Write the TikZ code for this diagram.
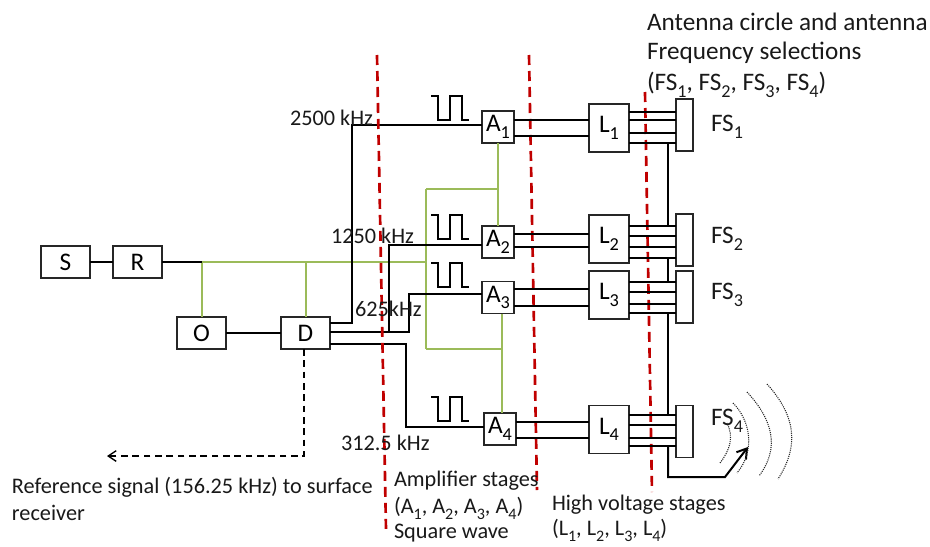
\documentclass[tikz,border=0pt]{standalone}
\usepackage{fontspec}
\setmainfont{Carlito}
\usetikzlibrary{arrows.meta,calc}
\definecolor{grn}{HTML}{9BBB59}
\definecolor{rd}{HTML}{C00000}
\newcommand\sbs[1]{\raisebox{-0.55ex}{\fontsize{0.72em}{1em}\selectfont #1}}
\tikzset{
  x=0.75pt,y=-0.75pt,
  bx/.style={draw=black!85,line width=1pt,fill=white,inner sep=0pt,outer sep=0pt,align=center,font=\fontsize{19}{22}\selectfont},
  lbl/.style={inner sep=0pt,outer sep=0pt,anchor=west,text=black!90,font=\fontsize{16.7}{20}\selectfont},
  big/.style={lbl,font=\fontsize{18.9}{22}\selectfont},
  blk/.style={draw=black,line width=1.1pt},
  thk/.style={draw=black,line width=1.5pt},
  grnl/.style={draw=grn,line width=1.4pt},
  reddash/.style={draw=rd,line width=2pt,dash pattern=on 7.5pt off 4.5pt},
  dots/.style={draw=black!85,line width=0.8pt,dash pattern=on 0.8pt off 0.8pt},
  wave/.style={draw=black,line width=1pt},
}
\newcommand\bxn[6]{\node[bx,minimum width=#4*0.75pt,minimum height=#5*0.75pt] (#1) at (#2,#3) {#6};}
\newcommand\wav[1]{\coordinate (w) at (431,#1); \draw[wave] (w) -- ++(7,0) -- ++(0,24) -- ++(12,0) -- ++(0,-24) -- ++(12,0) -- ++(0,24) -- ++(7,0);}
\begin{document}
\begin{tikzpicture}
\useasboundingbox (0,0) rectangle (930,546);
% boxes
\bxn{S}{65.5}{262}{49}{32}{S}
\bxn{R}{137.5}{262}{49}{32}{R}
\bxn{O}{201.5}{333}{49}{32}{O}
\bxn{D}{305.5}{333}{49}{32}{D}
\bxn{A1}{498}{127}{32}{32}{A\sbs{1}}
\bxn{A2}{498}{242}{32}{32}{A\sbs{2}}
\bxn{A3}{498}{297.5}{32}{32}{A\sbs{3}}
\bxn{A4}{500}{429}{32}{32}{A\sbs{4}}
\bxn{L1}{609}{128}{40}{48}{L\sbs{1}}
\bxn{L2}{609}{239}{40}{48}{L\sbs{2}}
\bxn{L3}{609}{295}{40}{48}{L\sbs{3}}
\bxn{L4}{609}{429.5}{40}{48}{L\sbs{4}}
\bxn{F1}{684.5}{125}{17}{52}{}
\bxn{F2}{684.5}{240}{17}{52}{}
\bxn{F3}{684.5}{297}{17}{52}{}
\bxn{F4}{684.5}{431.5}{17}{52}{}
\coordinate (gL) at (202,262);
\coordinate (gR) at (426,262);
\coordinate (gT) at (426,189);
\coordinate (gB) at (426,349);
\coordinate (dsh) at (304,456);
\coordinate (tip) at (107,456);
% green
\draw[grnl] (gL) -- (gR);
\draw[grnl] (gL) -- (gL |- O.north);
\draw[grnl] (306,262) -- (306,317);
\draw[grnl] (gT) -- (gB);
\draw[grnl] (A1.south) -- (A2.north);
\draw[grnl] (gT) -- (498,189);
\draw[grnl] (502,313.5) -- (502,413);
\draw[grnl] (gB) -- (502,349);
% black left
\draw[thk] (S) -- (R);
\draw[thk] (R.east) -- (gL);
\draw[thk] (O) -- (D);
\draw[blk] (D.east |- 0,323) -- (352,323) -- (352,125) -- (A1.west |- 0,125);
\draw[thk] (D.east |- 0,332) -- (409,332) -- (409,294) -- (A3.west |- 0,294);
\draw[blk] (389,332) -- (389,245) -- (A2.west |- 0,245);
\draw[blk] (D.east |- 0,344) -- (406,344) -- (406,427) -- (A4.west |- 0,427);
\draw[draw=black,line width=1pt,dash pattern=on 5pt off 3.5pt,-{Straight Barb[length=6pt,width=8pt]}] (D.south -| dsh) -- (dsh) -- (tip);
% square waves
\wav{96}
\wav{215}
\wav{263}
\wav{397}
% red
\coordinate (r1a) at (377,55); \coordinate (r1b) at (386,530);
\coordinate (r2a) at (529,55); \coordinate (r2b) at (537,490);
\coordinate (r3a) at (645,92); \coordinate (r3b) at (652,492);
\draw[reddash] (r1a) -- (r1b);
\draw[reddash] (r2a) -- (r2b);
\draw[reddash] (r3a) -- (r3b);
% A to L
\foreach \a/\l/\ya/\yb in {A1/L1/120/136,A2/L2/234/247,A3/L3/289/306,A4/L4/422/438}{
  \draw[thk] (\a.east |- 0,\ya) -- (\l.west |- 0,\ya);
  \draw[thk] (\a.east |- 0,\yb) -- (\l.west |- 0,\yb);
}
% L to FS
\foreach \l/\f/\ya/\yb/\yc/\yd in {L1/F1/112/120/133/143,L2/F2/226/236/247/258,L3/F3/282/292/304/313,L4/F4/415/425/438/446}{
  \foreach \y in {\ya,\yb,\yc,\yd}{\draw[thk] (\l.east |- 0,\y) -- (\f.west |- 0,\y);}
}
% bus
\coordinate (ant) at (725,477);
\coordinate (anttip) at (748,447);
\draw[thk] (668,143) -- (668,227);
\draw[thk] (668,258) -- (668,282);
\draw[thk] (668,313) -- (668,415);
\draw[thk,-{Straight Barb[length=7pt,width=9pt]}] (668,446) -- (668,477) -- (ant) -- (anttip);
% dotted arcs
\draw[dots] (720,463) .. controls (730,450) and (734,437) .. (727,423);
\draw[dots] (733,403) .. controls (750,420) and (756,450) .. (737,473);
\draw[dots] (747,392) .. controls (773,420) and (780,448) .. (759,476);
\draw[dots] (767,384) .. controls (795,415) and (800,445) .. (778,479);
% labels
\node[lbl] (t1) at (290,118) {2500 kHz};
\node[lbl] (t2) at (331,236) {1250 kHz};
\node[lbl] (t3) at (355,309) {625kHz};
\node[lbl] (t4) at (341,443) {312.5 kHz};
\node[big] (n1) at (711,127) {FS\sbs{1}};
\node[big] (n2) at (711,239) {FS\sbs{2}};
\node[big] (n3) at (711,295) {FS\sbs{3}};
\node[big] (n4) at (711,421) {FS\sbs{4}};
\node[big] (h1) at (647,22) {Antenna circle and antenna};
\node[big] (h2) at (647,53) {Frequency selections};
\node[big] (h3) at (647,85) {(FS\sbs{1}, FS\sbs{2}, FS\sbs{3}, FS\sbs{4})};
\node[lbl] (r1) at (12,487) {Reference signal (156.25 kHz) to surface};
\node[lbl] (r2) at (12,513) {receiver};
\node[lbl] (a1) at (394,481) {Amplifier stages};
\node[lbl] (a2) at (394,508) {(A\sbs{1}, A\sbs{2}, A\sbs{3}, A\sbs{4})};
\node[lbl] (a3) at (394,533) {Square wave};
\node[lbl] (v1) at (552,505) {High voltage stages};
\node[lbl] (v2) at (552,530) {(L\sbs{1}, L\sbs{2}, L\sbs{3}, L\sbs{4})};
\end{tikzpicture}
\end{document}
